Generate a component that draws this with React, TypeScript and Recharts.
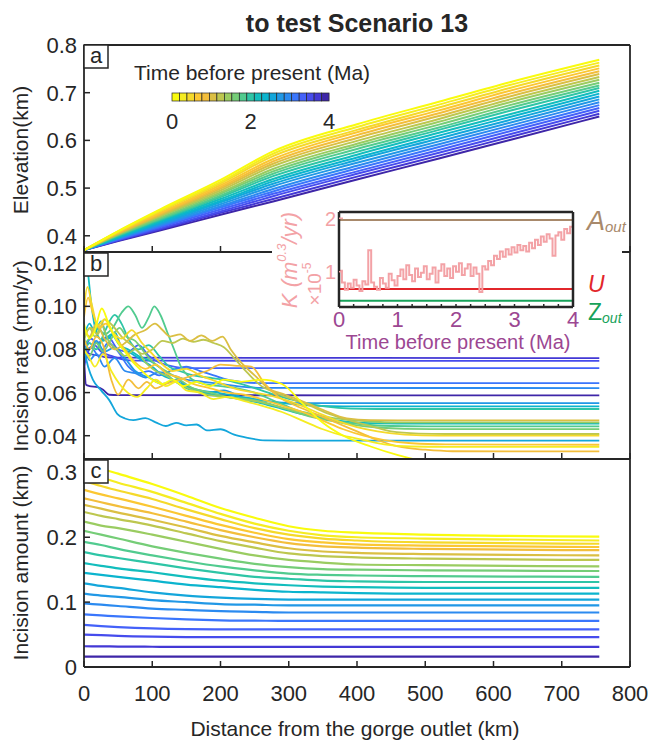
import React from "react";
import { LineChart, Line, XAxis, YAxis, ReferenceLine, ReferenceArea } from "recharts";

const FONT = "'Liberation Sans', Arial, Helvetica, sans-serif";
const AXIS = "#262626";
const W = 649;
const H = 742;

// 21 time slices, 0 Ma (yellow) ... 4 Ma (dark blue), parula
const sliceColors = [
  "#f9fb0e", "#f5ec22", "#f5d92a", "#fbc732", "#f3be3b", "#dbbf43", "#bdc74f",
  "#9acc61", "#75cd77", "#51cb8f", "#2ec5a6", "#12bdbd", "#0bb4ce", "#13a6db",
  "#2198e6", "#2b8af0", "#3a76fc", "#4461f9", "#464ced", "#4338d5", "#3e26a8",
];
const legendTicks = [0, 2, 4];
const distTicks = [0, 100, 200, 300, 400, 500, 600, 700, 800];

// (a) elevation profiles, km
const elevDist = [0, 50, 111, 200, 277, 400, 520, 624, 755];
const elevLines = [
  [0.370, 0.410, 0.455, 0.517, 0.577, 0.634, 0.681, 0.722, 0.769],
  [0.370, 0.409, 0.453, 0.513, 0.572, 0.628, 0.675, 0.716, 0.763],
  [0.370, 0.408, 0.451, 0.510, 0.567, 0.622, 0.669, 0.710, 0.757],
  [0.370, 0.407, 0.448, 0.506, 0.561, 0.617, 0.663, 0.704, 0.751],
  [0.370, 0.406, 0.446, 0.502, 0.556, 0.611, 0.657, 0.698, 0.745],
  [0.370, 0.405, 0.444, 0.499, 0.551, 0.605, 0.651, 0.692, 0.739],
  [0.370, 0.404, 0.442, 0.495, 0.546, 0.599, 0.645, 0.686, 0.733],
  [0.370, 0.403, 0.440, 0.491, 0.540, 0.593, 0.639, 0.680, 0.727],
  [0.370, 0.402, 0.437, 0.488, 0.535, 0.588, 0.633, 0.674, 0.721],
  [0.370, 0.401, 0.435, 0.484, 0.530, 0.582, 0.627, 0.668, 0.715],
  [0.370, 0.400, 0.433, 0.481, 0.525, 0.576, 0.622, 0.662, 0.710],
  [0.370, 0.398, 0.431, 0.477, 0.519, 0.570, 0.616, 0.655, 0.704],
  [0.370, 0.397, 0.429, 0.473, 0.514, 0.564, 0.610, 0.649, 0.698],
  [0.370, 0.396, 0.426, 0.470, 0.509, 0.559, 0.604, 0.643, 0.692],
  [0.370, 0.395, 0.424, 0.466, 0.504, 0.553, 0.598, 0.637, 0.686],
  [0.370, 0.394, 0.422, 0.462, 0.498, 0.547, 0.592, 0.631, 0.680],
  [0.370, 0.393, 0.420, 0.459, 0.493, 0.541, 0.586, 0.625, 0.674],
  [0.370, 0.392, 0.418, 0.455, 0.488, 0.535, 0.580, 0.619, 0.668],
  [0.370, 0.391, 0.415, 0.451, 0.483, 0.530, 0.574, 0.613, 0.662],
  [0.370, 0.390, 0.413, 0.448, 0.477, 0.524, 0.568, 0.607, 0.656],
  [0.370, 0.389, 0.411, 0.444, 0.472, 0.518, 0.562, 0.601, 0.650],
];

// (b) incision rate, mm/yr, [distance km, rate]
const rateLines: number[][][] = [
  [[0,0.092],[8,0.085],[16,0.089],[26,0.099],[36,0.092],[48,0.084],[60,0.079],[72,0.074],[85,0.070],[100,0.066],[115,0.064],[130,0.066],[145,0.063],[165,0.065],[185,0.063],[205,0.066],[230,0.065],[260,0.066],[290,0.064],[320,0.055],[350,0.046],[380,0.040],[420,0.035],[460,0.031],[500,0.028],[560,0.026],[755,0.026]],
  [[0,0.080],[8,0.076],[16,0.072],[28,0.078],[40,0.070],[52,0.064],[64,0.060],[78,0.058],[92,0.062],[105,0.066],[120,0.063],[135,0.065],[150,0.061],[170,0.060],[190,0.057],[210,0.058],[235,0.056],[260,0.054],[290,0.051],[320,0.047],[350,0.043],[380,0.040],[410,0.038],[440,0.036],[480,0.035],[530,0.0348],[755,0.0348]],
  [[0,0.099],[5,0.109],[12,0.100],[20,0.091],[30,0.094],[42,0.088],[55,0.085],[70,0.089],[85,0.083],[100,0.078],[115,0.073],[130,0.070],[150,0.071],[170,0.068],[195,0.065],[220,0.062],[250,0.060],[280,0.058],[310,0.055],[340,0.051],[370,0.047],[400,0.044],[430,0.042],[470,0.0405],[520,0.040],[755,0.040]],
  [[0,0.095],[6,0.104],[12,0.098],[22,0.090],[32,0.092],[45,0.086],[60,0.080],[75,0.074],[90,0.071],[105,0.073],[120,0.069],[140,0.067],[160,0.064],[185,0.062],[210,0.060],[235,0.059],[260,0.057],[290,0.054],[320,0.051],[350,0.047],[380,0.043],[410,0.040],[440,0.038],[480,0.0365],[530,0.036],[755,0.0358]],
  [[0,0.085],[8,0.080],[18,0.086],[28,0.082],[40,0.066],[50,0.059],[65,0.066],[80,0.062],[92,0.065],[105,0.062],[120,0.064],[140,0.066],[160,0.068],[180,0.070],[200,0.073],[220,0.0725],[245,0.072],[265,0.064],[285,0.058],[310,0.054],[340,0.050],[370,0.046],[400,0.042],[430,0.038],[460,0.035],[500,0.0335],[540,0.0328],[755,0.0327]],
  [[0,0.090],[8,0.086],[18,0.092],[30,0.085],[45,0.080],[60,0.083],[75,0.087],[90,0.089],[104,0.092],[115,0.089],[126,0.086],[141,0.087],[155,0.084],[172,0.0865],[188,0.084],[203,0.086],[215,0.080],[230,0.074],[250,0.068],[270,0.062],[295,0.059],[320,0.056],[350,0.052],[385,0.048],[420,0.0472],[460,0.0471],[755,0.0471]],
  [[0,0.086],[10,0.090],[20,0.087],[30,0.094],[42,0.091],[55,0.086],[70,0.082],[85,0.078],[100,0.080],[115,0.084],[130,0.083],[145,0.085],[160,0.0835],[175,0.0845],[190,0.083],[205,0.081],[220,0.076],[240,0.069],[260,0.063],[280,0.060],[305,0.057],[330,0.054],[360,0.050],[390,0.047],[420,0.0445],[450,0.042],[490,0.041],[530,0.0408],[755,0.0408]],
  [[0,0.084],[8,0.090],[16,0.086],[26,0.091],[36,0.084],[48,0.080],[60,0.077],[75,0.080],[90,0.074],[105,0.070],[120,0.068],[140,0.064],[160,0.061],[180,0.059],[205,0.058],[230,0.057],[260,0.0555],[290,0.053],[320,0.051],[350,0.049],[385,0.0475],[420,0.0466],[460,0.0462],[755,0.0462]],
  [[0,0.080],[8,0.077],[18,0.083],[28,0.079],[40,0.085],[52,0.090],[62,0.086],[75,0.084],[90,0.078],[105,0.073],[120,0.070],[140,0.066],[160,0.062],[185,0.060],[210,0.058],[240,0.057],[270,0.055],[300,0.052],[330,0.049],[360,0.047],[395,0.045],[430,0.0438],[470,0.0432],[510,0.0431],[755,0.0431]],
  [[0,0.082],[10,0.086],[20,0.090],[30,0.087],[42,0.090],[55,0.097],[65,0.100],[75,0.096],[85,0.090],[95,0.095],[103,0.100],[112,0.096],[122,0.088],[132,0.080],[142,0.072],[155,0.067],[175,0.064],[200,0.063],[225,0.062],[250,0.060],[280,0.056],[310,0.052],[340,0.049],[375,0.0465],[410,0.0452],[450,0.0445],[500,0.0443],[755,0.0443]],
  [[0,0.078],[8,0.083],[18,0.080],[30,0.088],[45,0.096],[55,0.092],[65,0.085],[80,0.080],[95,0.082],[110,0.077],[125,0.072],[140,0.070],[160,0.068],[180,0.067],[205,0.066],[230,0.064],[260,0.061],[290,0.058],[320,0.0555],[355,0.0535],[390,0.0526],[430,0.0524],[755,0.0524]],
  [[0,0.125],[5,0.118],[10,0.103],[18,0.088],[28,0.084],[40,0.087],[52,0.082],[65,0.080],[80,0.077],[95,0.075],[110,0.072],[130,0.066],[150,0.062],[175,0.060],[200,0.0585],[230,0.057],[260,0.055],[290,0.0525],[320,0.050],[350,0.048],[385,0.0465],[420,0.0458],[460,0.0456],[755,0.0456]],
  [[0,0.086],[8,0.092],[16,0.088],[25,0.093],[35,0.085],[45,0.088],[55,0.081],[70,0.078],[85,0.075],[100,0.072],[115,0.068],[130,0.066],[150,0.063],[170,0.061],[195,0.060],[220,0.0585],[250,0.057],[280,0.0555],[310,0.0545],[345,0.0538],[380,0.0536],[755,0.0536]],
  [[0,0.080],[6,0.072],[13,0.066],[25,0.061],[37,0.0565],[49,0.050],[60,0.048],[72,0.0472],[90,0.0482],[105,0.0462],[120,0.0445],[135,0.046],[150,0.0448],[165,0.0452],[180,0.0425],[200,0.043],[220,0.0405],[240,0.039],[265,0.0378],[300,0.0377],[755,0.0377]],
  [[0,0.085],[8,0.080],[18,0.084],[30,0.079],[45,0.081],[60,0.076],[75,0.070],[95,0.067],[115,0.064],[135,0.066],[155,0.062],[180,0.060],[205,0.061],[230,0.058],[260,0.0565],[290,0.0553],[320,0.0551],[755,0.0551]],
  [[0,0.082],[8,0.075],[18,0.078],[30,0.072],[45,0.076],[60,0.070],[75,0.069],[90,0.067],[110,0.0695],[130,0.068],[150,0.066],[175,0.065],[200,0.064],[230,0.0628],[260,0.0622],[755,0.0621]],
  [[0,0.078],[10,0.081],[22,0.077],[35,0.083],[50,0.079],[65,0.072],[80,0.069],[95,0.070],[110,0.068],[130,0.0705],[150,0.072],[170,0.070],[190,0.068],[210,0.066],[235,0.0648],[260,0.0644],[755,0.0644]],
  [[0,0.079],[10,0.085],[20,0.083],[35,0.086],[50,0.080],[65,0.079],[80,0.082],[95,0.077],[110,0.074],[125,0.0725],[140,0.0716],[160,0.0713],[755,0.0713]],
  [[0,0.072],[6,0.079],[15,0.082],[25,0.079],[40,0.077],[60,0.0752],[80,0.0748],[755,0.0747]],
  [[0,0.080],[8,0.078],[16,0.0775],[30,0.0765],[50,0.0762],[755,0.076]],
  [[0,0.077],[3,0.0636],[8,0.063],[20,0.0625],[28,0.0613],[37,0.059],[50,0.0588],[755,0.0587]],
];

// (c) incision amount, km
const incDist = [0, 25, 50, 100, 150, 200, 250, 300, 350, 400, 500, 755];
const incLines = [
  [0.315, 0.306, 0.298, 0.282, 0.264, 0.245, 0.230, 0.217, 0.210, 0.207, 0.204, 0.201],
  [0.300, 0.292, 0.284, 0.270, 0.253, 0.236, 0.221, 0.210, 0.203, 0.200, 0.198, 0.195],
  [0.287, 0.279, 0.272, 0.259, 0.243, 0.228, 0.214, 0.204, 0.198, 0.195, 0.192, 0.190],
  [0.273, 0.266, 0.260, 0.247, 0.233, 0.219, 0.207, 0.197, 0.192, 0.189, 0.187, 0.185],
  [0.260, 0.254, 0.248, 0.237, 0.224, 0.211, 0.200, 0.191, 0.186, 0.184, 0.182, 0.180],
  [0.250, 0.244, 0.238, 0.227, 0.215, 0.202, 0.192, 0.183, 0.178, 0.176, 0.174, 0.172],
  [0.239, 0.233, 0.228, 0.218, 0.206, 0.194, 0.184, 0.175, 0.171, 0.169, 0.167, 0.165],
  [0.224, 0.218, 0.214, 0.204, 0.193, 0.182, 0.172, 0.165, 0.161, 0.158, 0.157, 0.155],
  [0.210, 0.204, 0.198, 0.186, 0.176, 0.167, 0.159, 0.154, 0.151, 0.150, 0.149, 0.148],
  [0.193, 0.188, 0.182, 0.172, 0.163, 0.155, 0.149, 0.144, 0.142, 0.141, 0.140, 0.139],
  [0.177, 0.172, 0.168, 0.160, 0.152, 0.145, 0.139, 0.136, 0.133, 0.132, 0.131, 0.131],
  [0.160, 0.156, 0.152, 0.146, 0.139, 0.133, 0.129, 0.126, 0.124, 0.123, 0.122, 0.122],
  [0.145, 0.142, 0.139, 0.133, 0.127, 0.123, 0.119, 0.116, 0.115, 0.114, 0.113, 0.113],
  [0.129, 0.125, 0.122, 0.115, 0.110, 0.107, 0.105, 0.104, 0.104, 0.104, 0.104, 0.104],
  [0.113, 0.110, 0.108, 0.103, 0.100, 0.097, 0.096, 0.095, 0.095, 0.095, 0.095, 0.095],
  [0.098, 0.096, 0.094, 0.090, 0.088, 0.086, 0.085, 0.084, 0.084, 0.084, 0.084, 0.084],
  [0.081, 0.0795, 0.078, 0.0755, 0.0735, 0.072, 0.0715, 0.071, 0.071, 0.071, 0.071, 0.071],
  [0.065, 0.063, 0.0615, 0.0594, 0.0584, 0.0581, 0.058, 0.058, 0.058, 0.058, 0.058, 0.058],
  [0.050, 0.049, 0.048, 0.0468, 0.0462, 0.046, 0.046, 0.046, 0.046, 0.046, 0.046, 0.046],
  [0.032, 0.0318, 0.0315, 0.0312, 0.031, 0.031, 0.031, 0.031, 0.031, 0.031, 0.031, 0.031],
  [0.016, 0.016, 0.016, 0.016, 0.016, 0.016, 0.016, 0.016, 0.016, 0.016, 0.016, 0.016],
];

// inset: erodibility K (x1e-5) through time, 0.05 Ma steps
const kTime = [
  0, 0.05, 0.1, 0.15, 0.2, 0.25, 0.3, 0.35, 0.4, 0.45, 0.5, 0.55, 0.6, 0.65, 0.7, 0.75, 0.8, 0.85, 0.9, 0.95,
  1, 1.05, 1.1, 1.15, 1.2, 1.25, 1.3, 1.35, 1.4, 1.45, 1.5, 1.55, 1.6, 1.65, 1.7, 1.75, 1.8, 1.85, 1.9, 1.95,
  2, 2.05, 2.1, 2.15, 2.2, 2.25, 2.3, 2.35, 2.4, 2.45, 2.5, 2.55, 2.6, 2.65, 2.7, 2.75, 2.8, 2.85, 2.9, 2.95,
  3, 3.05, 3.1, 3.15, 3.2, 3.25, 3.3, 3.35, 3.4, 3.45, 3.5, 3.55, 3.6, 3.65, 3.7, 3.75, 3.8, 3.85, 3.9, 3.95, 4,
];
const kValue = [
  1.02, 0.80, 0.66, 0.78, 0.70, 0.85, 0.74, 0.64, 0.82, 0.76, 1.40, 0.80, 0.72, 0.66, 0.88, 0.78, 0.70, 0.96, 0.84, 0.74,
  0.92, 1.04, 0.86, 1.12, 0.94, 0.82, 1.06, 0.90, 0.98, 1.10, 0.86, 0.96, 1.08, 0.80, 1.02, 1.14, 0.92, 1.06, 0.88, 1.10,
  1.00, 1.16, 0.94, 1.06, 1.14, 0.92, 1.08, 0.96, 0.62, 1.10, 1.04, 1.20, 1.12, 1.30, 1.24, 1.38, 1.28, 1.42, 1.32, 1.46,
  1.36, 1.50, 1.40, 1.48, 1.38, 1.54, 1.44, 1.60, 1.50, 1.66, 1.56, 1.70, 1.62, 1.30, 1.68, 1.74, 1.60, 1.80, 1.72, 1.84, 1.80,
];
const aOut = 1.968;
const uRate = 0.676;
const zOut = 0.457;
const insetTimeTicks = [0, 0.25, 0.5, 0.75, 1, 1.25, 1.5, 1.75, 2, 2.25, 2.5, 2.75, 3, 3.25, 3.5, 3.75, 4];

const PINK = "#f3a2a6";
const PURPLE = "#9c4792";
const BROWN = "#a8896b";
const RED = "#e2262b";
const GREEN = "#17a25a";

const elevRows = elevDist.map((d, i) => {
  const row: Record<string, number> = { d };
  elevLines.forEach((l, k) => (row[`k${k}`] = l[i]));
  return row;
});
const incRows = incDist.map((d, i) => {
  const row: Record<string, number> = { d };
  incLines.forEach((l, k) => (row[`k${k}`] = l[i]));
  return row;
});
const kRows = kTime.map((t, i) => ({ t, k: kValue[i] }));
const order = sliceColors.map((_, k) => 20 - k);

function LeftTick(props: any) {
  const { x, y, payload, fmt, color = AXIS, len = 6, size = 22, gap = 7 } = props;
  return (
    <g>
      <line x1={x} x2={x + len} y1={y} y2={y} stroke={color} strokeWidth={1.5} />
      {fmt && (
        <text x={x - gap} y={y} dy="0.36em" textAnchor="end" fontSize={size} fill={color} fontFamily={FONT}>
          {fmt(payload.value)}
        </text>
      )}
    </g>
  );
}

function BottomTick(props: any) {
  const { x, y, payload, showLabel } = props;
  return (
    <g>
      <line x1={x} x2={x} y1={y} y2={y - 6} stroke={AXIS} strokeWidth={1.5} />
      {showLabel && (
        <text x={x} y={y + 26} dy="0.36em" textAnchor="middle" fontSize={22} fill={AXIS} fontFamily={FONT}>
          {payload.value}
        </text>
      )}
    </g>
  );
}

function InsetBottomTick(props: any) {
  const { x, y, payload } = props;
  const major = Number.isInteger(payload.value);
  return (
    <g>
      <line x1={x} x2={x} y1={y} y2={y - 3} stroke={AXIS} strokeWidth={1.5} />
      {major && (
        <text x={x} y={y + 20} textAnchor="middle" fontSize={22} fill={PURPLE} fontFamily={FONT}>
          {payload.value}
        </text>
      )}
    </g>
  );
}

const axisLine = { stroke: AXIS, strokeWidth: 1.8 };

// axes need a non-zero box to render, so each one gets 1px and the margins give it back
function panelAxes(yDomain: number[], yTicks: number[], fmt: (v: number) => string, showX: boolean) {
  return [
    <XAxis
      key="xb"
      dataKey="d"
      type="number"
      domain={[0, 800]}
      ticks={distTicks}
      interval={0}
      allowDataOverflow
      height={1}
      tickSize={0}
      tickMargin={0}
      tickLine={false}
      axisLine={axisLine}
      tick={(p: any) => <BottomTick {...p} showLabel={showX} />}
    />,
    <XAxis key="xt" xAxisId="top" orientation="top" type="number" domain={[0, 800]} height={1} tick={false} tickLine={false} axisLine={axisLine} />,
    <YAxis
      key="yl"
      type="number"
      domain={yDomain}
      ticks={yTicks}
      interval={0}
      allowDataOverflow
      width={1}
      tickSize={0}
      tickMargin={0}
      tickLine={false}
      axisLine={axisLine}
      tick={(p: any) => <LeftTick {...p} fmt={fmt} />}
    />,
    <YAxis key="yr" yAxisId="right" orientation="right" type="number" domain={[0, 1]} width={1} tick={false} tickLine={false} axisLine={axisLine} />,
  ];
}

function panelMargin(top: number, bottom: number) {
  return { top: top - 1, bottom: H - bottom - 1, left: 83, right: W - 630 - 1 };
}

const layer: React.CSSProperties = { position: "absolute", left: 0, top: 0 };

function PanelBox({ x, y, letter }: { x: number; y: number; letter: string }) {
  return (
    <g>
      <rect x={x} y={y} width={24} height={23} fill="#fff" stroke={AXIS} strokeWidth={1.5} />
      <text x={x + 12} y={y + 18} textAnchor="middle" fontSize={22} fill={AXIS} fontFamily={FONT}>
        {letter}
      </text>
    </g>
  );
}

export default function App() {
  return (
    <div style={{ position: "absolute", left: 0, top: 0, width: W, height: H, background: "#fff", fontFamily: FONT }}>
      {/* a: elevation */}
      <div style={layer}>
        <LineChart width={W} height={H} data={elevRows} margin={panelMargin(45, 252)}>
          {panelAxes([0.366, 0.8], [0.4, 0.5, 0.6, 0.7, 0.8], (v) => v.toFixed(1), false)}
          {order.map((k) => (
            <Line key={k} type="monotone" dataKey={`k${k}`} stroke={sliceColors[k]} strokeWidth={2} dot={false} isAnimationActive={false} />
          ))}
        </LineChart>
      </div>

      {/* b: incision rate */}
      <div style={layer}>
        <LineChart width={W} height={H} margin={panelMargin(252, 459)}>
          {panelAxes([0.0292, 0.1252], [0.04, 0.06, 0.08, 0.1, 0.12], (v) => v.toFixed(2), false)}
          {order.map((k) => (
            <Line
              key={k}
              data={rateLines[k].map(([d, r]) => ({ d, r }))}
              type="monotone"
              dataKey="r"
              stroke={sliceColors[k]}
              strokeWidth={1.8}
              dot={false}
              isAnimationActive={false}
            />
          ))}
        </LineChart>
      </div>

      {/* c: incision amount */}
      <div style={layer}>
        <LineChart width={W} height={H} data={incRows} margin={panelMargin(459, 667)}>
          {panelAxes([0, 0.3206], [0, 0.1, 0.2, 0.3], (v) => (v === 0 ? "0" : v.toFixed(1)), true)}
          {order.map((k) => (
            <Line key={k} type="monotone" dataKey={`k${k}`} stroke={sliceColors[k]} strokeWidth={2.2} dot={false} isAnimationActive={false} />
          ))}
        </LineChart>
      </div>

      {/* inset backdrop */}
      <div style={{ position: "absolute", left: 272, top: 203, width: 350, height: 149, background: "#fff" }} />

      {/* inset: K through time */}
      <div style={layer}>
        <LineChart width={W} height={H} data={kRows} margin={{ top: 211, bottom: H - 307 - 1, left: 338, right: W - 573 - 1 }}>
          <ReferenceArea x1={0} x2={4} y1={0.339} y2={2.118} fill="#fff" fillOpacity={1} stroke="none" />
          <XAxis
            dataKey="t"
            type="number"
            domain={[0, 4]}
            ticks={insetTimeTicks}
            interval={0}
            height={1}
            tickSize={0}
            tickMargin={0}
            tickLine={false}
            axisLine={{ stroke: AXIS, strokeWidth: 2.5 }}
            tick={(p: any) => <InsetBottomTick {...p} />}
          />
          <XAxis xAxisId="top" orientation="top" type="number" domain={[0, 4]} height={1} tick={false} tickLine={false} axisLine={{ stroke: AXIS, strokeWidth: 2.5 }} />
          <YAxis
            type="number"
            domain={[0.339, 2.118]}
            ticks={[1, 2]}
            interval={0}
            allowDataOverflow
            width={1}
            tickSize={0}
            tickMargin={0}
            tickLine={false}
            axisLine={{ stroke: AXIS, strokeWidth: 2.5 }}
            tick={(p: any) => <LeftTick {...p} fmt={(v: number) => String(v)} color={PINK} len={4} size={20} gap={3} />}
          />
          <YAxis yAxisId="right" orientation="right" type="number" domain={[0, 1]} width={1} tick={false} tickLine={false} axisLine={{ stroke: AXIS, strokeWidth: 2.5 }} />
          <ReferenceLine y={aOut} stroke={BROWN} strokeWidth={2} />
          <ReferenceLine y={uRate} stroke={RED} strokeWidth={2} />
          <ReferenceLine y={zOut} stroke={GREEN} strokeWidth={2} />
          <Line type="stepAfter" dataKey="k" stroke={PINK} strokeWidth={2} dot={false} isAnimationActive={false} />
        </LineChart>
      </div>

      {/* text and legend */}
      <svg width={W} height={H} style={{ ...layer, pointerEvents: "none" }} fontFamily={FONT}>
        <text x={357} y={32} textAnchor="middle" fontSize={25} fontWeight="bold" fill={AXIS}>
          to test Scenario 13
        </text>

        <text transform="rotate(-90 20 150)" x={20} y={150} textAnchor="middle" dominantBaseline="central" fontSize={21} fill={AXIS}>
          Elevation(km)
        </text>
        <text transform="rotate(-90 20 356)" x={20} y={356} textAnchor="middle" dominantBaseline="central" fontSize={21} fill={AXIS}>
          Incision rate (mm/yr)
        </text>
        <text transform="rotate(-90 20 563)" x={20} y={563} textAnchor="middle" dominantBaseline="central" fontSize={21} fill={AXIS}>
          Incision amount (km)
        </text>
        <text x={355} y={736} textAnchor="middle" fontSize={21} fill={AXIS}>
          Distance from the gorge outlet (km)
        </text>

        <PanelBox x={84} y={45} letter="a" />
        <PanelBox x={84} y={253} letter="b" />
        <PanelBox x={84} y={460} letter="c" />

        <text x={252} y={80} textAnchor="middle" fontSize={21} fill={AXIS}>
          Time before present (Ma)
        </text>
        {sliceColors.map((c, i) => (
          <rect key={i} x={172 + i * 7.48} y={93} width={7.48} height={8} fill={c} stroke={AXIS} strokeWidth={0.7} />
        ))}
        {legendTicks.map((t) => (
          <text key={t} x={172 + (t / 4) * 157} y={121} dy="0.36em" textAnchor="middle" fontSize={22} fill={AXIS}>
            {t}
          </text>
        ))}

        <text transform="rotate(-90 289 260)" x={289} y={260} textAnchor="middle" dominantBaseline="central" fontSize={22} fontStyle="italic" fill={PINK}>
          K (m
          <tspan dy={-8} fontSize={13}>
            0.3
          </tspan>
          <tspan dy={8}>/yr)</tspan>
        </text>
        <text transform="rotate(-90 314 284)" x={314} y={284} textAnchor="middle" dominantBaseline="central" fontSize={19} fill={PINK}>
          ×10
          <tspan dy={-7} fontSize={12}>
            -5
          </tspan>
        </text>
        <text x={458} y={349} textAnchor="middle" fontSize={20} fill={PURPLE}>
          Time before present (Ma)
        </text>

        <text x={587} y={230} fontSize={27} fontStyle="italic" fill={BROWN}>
          A
          <tspan fontSize={15} dy={2}>
            out
          </tspan>
        </text>
        <text x={588} y={292} fontSize={23} fontStyle="italic" fill={RED}>
          U
        </text>
        <text x={588} y={320} fontSize={23} fill={GREEN}>
          Z
          <tspan fontSize={14} dy={3} fontStyle="italic">
            out
          </tspan>
        </text>
      </svg>
    </div>
  );
}
